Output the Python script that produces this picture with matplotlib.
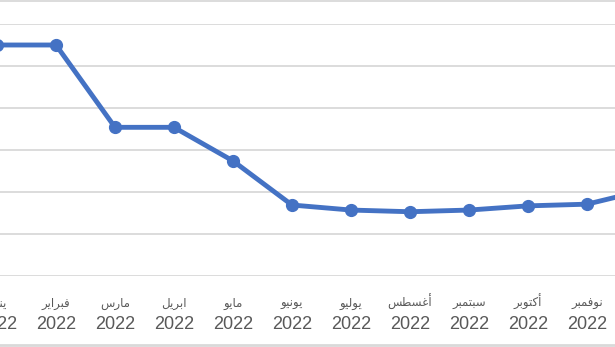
import matplotlib
matplotlib.use("Agg")
import matplotlib.pyplot as plt
from matplotlib.lines import Line2D
from matplotlib.transforms import blended_transform_factory

# monthly values (gridline step = 1)
months = ["يناير", "فبراير", "مارس", "ابريل", "مايو", "يونيو",
          "يوليو", "أغسطس", "سبتمبر", "أكتوبر", "نوفمبر", "ديسمبر"]
years = ["2022"] * 12
values = [5.5, 5.5, 3.54, 3.54, 2.74, 1.69, 1.57, 1.53, 1.57, 1.67, 1.71, 2.05]

# matplotlib has no arabic shaping, so pick presentation forms by hand
# (isolated, final, initial, medial)
right_only = {"ا": 0xFE8D, "أ": 0xFE83, "د": 0xFEA9, "ر": 0xFEAD, "و": 0xFEED}
dual = {"ب": 0xFE8F, "ت": 0xFE95, "س": 0xFEB1, "ط": 0xFEC1, "غ": 0xFECD,
        "ف": 0xFED1, "ك": 0xFED9, "ل": 0xFEDD, "م": 0xFEE1, "ن": 0xFEE5,
        "ي": 0xFEF1}


def shape(word):
    out = []
    for i, ch in enumerate(word):
        joins_prev = i > 0 and word[i - 1] in dual
        joins_next = i < len(word) - 1 and ch in dual
        base = dual.get(ch, right_only.get(ch))
        if joins_prev and joins_next:
            code = base + 3
        elif joins_prev:
            code = base + 1
        elif joins_next:
            code = base + 2
        else:
            code = base
        out.append(chr(code))
    return "".join(reversed(out))


fig = plt.figure(figsize=(6.15, 3.47), dpi=100)
ax = fig.add_axes([0, 1 - 276 / 347, 1, (276 - 24) / 347])

x = list(range(len(values)))
ax.plot(x, values, color="#4472C4", lw=3.5, marker="o", ms=8.5,
        solid_joinstyle="round", zorder=3)

ax.set_xticks(x)
ax.set_xticklabels([])
ax.tick_params(axis="x", length=0)
ax.set_xlim(3 / 59, 3 / 59 + 615 / 59)
ax.set_ylim(0, 6)
ax.set_yticks(range(0, 7))
ax.yaxis.grid(True, color="#d9d9d9", lw=1.3)
ax.tick_params(axis="y", left=False, labelleft=False)
for s in ax.spines.values():
    s.set_visible(False)

# category labels: month name on top, year below
tr = blended_transform_factory(ax.transData, fig.transFigure)
for xi, m, y in zip(x, months, years):
    ax.text(xi, 1 - 307 / 347, shape(m), transform=tr, ha="center",
            va="baseline", fontsize=8.5, color="#595959",
            family=["DejaVu Sans"])
    ax.text(xi, 1 - 329 / 347, y, transform=tr, ha="center",
            va="baseline", fontsize=13, color="#595959",
            family=["Liberation Sans", "DejaVu Sans"])

# thin chart border at top and bottom
fig.add_artist(Line2D([0, 1], [1 - 0.8 / 347] * 2, color="#d9d9d9", lw=1.3))
fig.add_artist(Line2D([0, 1], [2.0 / 347] * 2, color="#d9d9d9", lw=2))

fig.savefig("out.png", dpi=100)
